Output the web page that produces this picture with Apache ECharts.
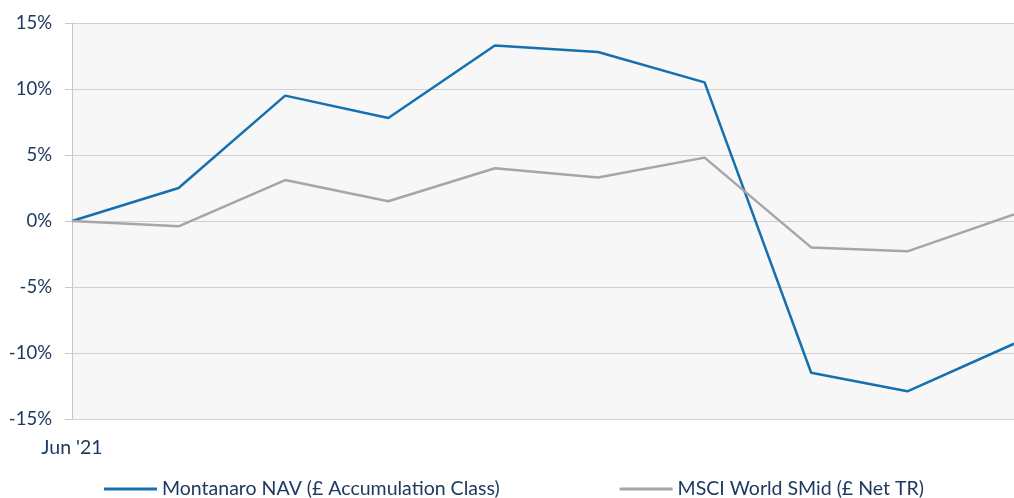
<!DOCTYPE html>
<html>
<head>
<meta charset="utf-8">
<script src="https://cdn.jsdelivr.net/npm/echarts@6/dist/echarts.min.js"></script>
<style>
  html, body { margin: 0; padding: 0; background: #ffffff; }
  #chart { width: 1014px; height: 498px; }
</style>
</head>
<body>
<div id="chart"></div>
<script>
// Month-end dates, Jun '21 to Mar '22
const dates = ['2021-06-30', '2021-07-31', '2021-08-31', '2021-09-30', '2021-10-31',
  '2021-11-30', '2021-12-31', '2022-01-31', '2022-02-28', '2022-03-31'];
const montanaro = [0, 2.5, 9.5, 7.8, 13.3, 12.8, 10.5, -11.5, -12.9, -9.3];
const msci = [0, -0.4, 3.1, 1.5, 4.0, 3.3, 4.8, -2.0, -2.3, 0.5];
const seriesNames = ['Montanaro NAV (£ Accumulation Class)', 'MSCI World SMid (£ Net TR)'];
const firstLabel = "Jun '21";

const textColor = '#1f3a60';
const font = 'Lato, "Open Sans", sans-serif';

const chart = echarts.init(document.getElementById('chart'), null, { renderer: 'canvas' });
const startTime = +new Date(dates[0]);

chart.setOption({
  animation: false,
  backgroundColor: '#ffffff',
  grid: {
    left: 72, right: 0, top: 23, bottom: 79,
    show: true, backgroundColor: '#f7f7f7', borderWidth: 0
  },
  legend: {
    left: 104, top: 479, padding: 0,
    icon: 'rect',
    itemWidth: 53, itemHeight: 3, itemGap: 120,
    textStyle: { color: textColor, fontSize: 19.5, fontFamily: font, padding: [0, 0, 0, 0] },
    data: seriesNames
  },
  xAxis: {
    type: 'time',
    min: startTime,
    max: +new Date(dates[dates.length - 1]),
    axisLine: { show: false },
    axisTick: { show: false },
    splitLine: { show: false },
    axisLabel: {
      showMinLabel: true,
      hideOverlap: false,
      formatter: (val) => (val === startTime ? firstLabel : ''),
      color: textColor, fontSize: 19.5, fontFamily: font, margin: 19
    }
  },
  yAxis: {
    type: 'value',
    min: -15, max: 15, interval: 5,
    axisLine: { show: true, lineStyle: { color: '#c8c8c8', width: 1 } },
    axisTick: { show: true, length: 7, lineStyle: { color: '#c8c8c8' } },
    splitLine: { lineStyle: { color: '#d0d0d0', width: 1 } },
    axisLabel: {
      formatter: '{value}%',
      color: textColor, fontSize: 18.5, fontFamily: font, margin: 20
    }
  },
  series: [
    {
      name: seriesNames[0], type: 'line', symbol: 'none',
      data: dates.map((d, i) => [d, montanaro[i]]),
      lineStyle: { color: '#1470ae', width: 2.5 },
      itemStyle: { color: '#1470ae' }
    },
    {
      name: seriesNames[1], type: 'line', symbol: 'none',
      data: dates.map((d, i) => [d, msci[i]]),
      lineStyle: { color: '#a6a6a6', width: 2.5 },
      itemStyle: { color: '#a6a6a6' }
    }
  ]
});
</script>
</body>
</html>
